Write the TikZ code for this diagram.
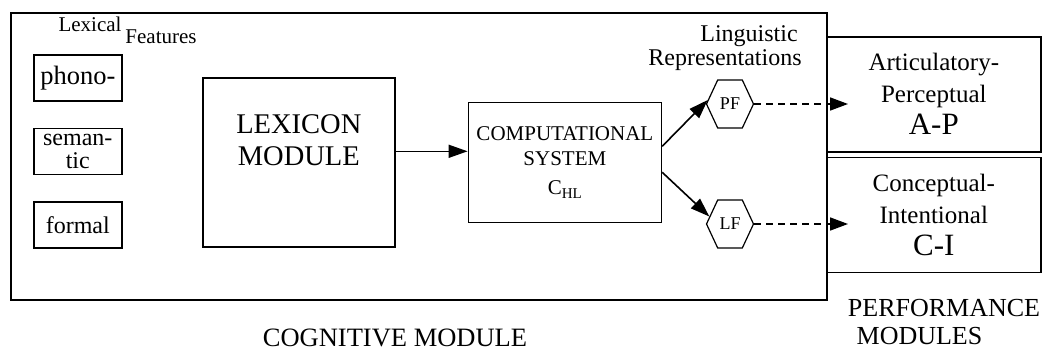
\documentclass[tikz,border=0pt]{standalone}
\usepackage{fontspec}
\setmainfont{Liberation Serif}
\usetikzlibrary{
    positioning, % posicionamento relativo
    arrows.meta, % pontas de seta
    calc,
    shapes.symbols % forma signal (hexagono)
}

\begin{document}
\begin{tikzpicture}[x=1pt, y=-1pt, node distance=26pt]

    % --- Estilos ---
    \tikzset{
        mod_box/.style={
            draw,
            rectangle,
            line width=1.6pt,
            inner sep=0pt,
            align=center
        },
        feat_box/.style={
            mod_box,
            minimum width=88pt,
            minimum height=46pt,
            font=\fontsize{24}{23}\selectfont
        },
        perf_box/.style={
            mod_box,
            minimum width=214pt,
            minimum height=115pt,
            font=\fontsize{25}{32}\selectfont
        },
        rep_hex/.style={
            draw,
            signal,
            signal to=west and east,
            signal pointer angle=130,
            line width=1.2pt,
            minimum width=47pt,
            minimum height=48pt,
            inner sep=0pt,
            font=\fontsize{18}{18}\selectfont
        },
        flow_arrow/.style={
            -{Triangle[length=19pt, width=13pt]},
            line width=1.6pt
        },
        dash_arrow/.style={
            -{Triangle[length=18pt, width=13pt]},
            line width=1.6pt,
            dash pattern=on 7pt off 5pt
        },
        lbl/.style={inner sep=0pt}
    }

    \useasboundingbox (0,0) rectangle (1044,351);

    % --- Modulo cognitivo ---
    \node[mod_box, anchor=north west, minimum width=816pt, minimum height=287pt] (cog) at (10,12) {};

    % 1. Tracos lexicais
    \node[feat_box, anchor=north west, font=\fontsize{26.5}{20}\selectfont] (phono) at (33,54) {phono-};
    \node[feat_box, below=of phono] (semantic) {seman-\\tic};
    \node[feat_box, below=of semantic] (formal) {formal};
    \node[lbl, font=\fontsize{21}{21}\selectfont] (lexical) at (90,24) {Lexical};
    \node[lbl, font=\fontsize{21}{21}\selectfont] (features) at (161,37) {Features};

    % 2. Lexico e sistema computacional
    \node[mod_box, anchor=north west, minimum width=192pt, minimum height=169pt,
          font=\fontsize{28.5}{32}\selectfont] (lexicon) at (202,77) {LEXICON\\MODULE\\[12pt]};
    \node[mod_box, right=72pt of lexicon, minimum width=193pt, minimum height=120pt,
          font=\fontsize{21}{25}\selectfont] (comp) {COMPUTATIONAL\\SYSTEM\\[4pt]
          C{\fontsize{15}{15}\selectfont\raisebox{-4pt}{HL}}};

    % 3. Representacoes linguisticas
    \node[rep_hex] (pf) at (730,104) {PF};
    \node[rep_hex] (lf) at (730,224) {LF};
    \node[lbl, font=\fontsize{24}{24}\selectfont] (linguistic) at (749,36) {Linguistic};
    \node[lbl, font=\fontsize{24}{24}\selectfont] (representations) at (725,60) {Representations};

    % --- Modulos de desempenho ---
    \node[perf_box, anchor=north west] (ap) at (826,36)
        {Articulatory-\\Perceptual\\{\fontsize{31}{32}\selectfont A-P}};
    \node[perf_box, below=4pt of ap] (ci)
        {Conceptual-\\Intentional\\{\fontsize{31}{32}\selectfont C-I}};

    % --- Titulos ---
    \node[lbl, font=\fontsize{26.5}{26}\selectfont] (cogtitle) at (395,338) {COGNITIVE MODULE};
    \node[lbl, font=\fontsize{26}{26}\selectfont] (perftitle) at (944,308.5) {PERFORMANCE};
    \node[lbl, font=\fontsize{26}{26}\selectfont] (perftitle2) at (919.5,336.5) {MODULES};

    % --- Setas ---
    \draw[flow_arrow] ([yshift=11pt]lexicon.east) -- ([yshift=11pt]comp.west);
    \draw[flow_arrow] ([yshift=16pt]comp.east) -- (pf.170);
    \draw[flow_arrow] ([yshift=-10pt]comp.east) -- (lf.160);
    \draw[dash_arrow] (pf.east) -- ($(pf.east -| ap.west)+(22,0)$);
    \draw[dash_arrow] (lf.east) -- ($(lf.east -| ci.west)+(22,0)$);

\end{tikzpicture}
\end{document}
